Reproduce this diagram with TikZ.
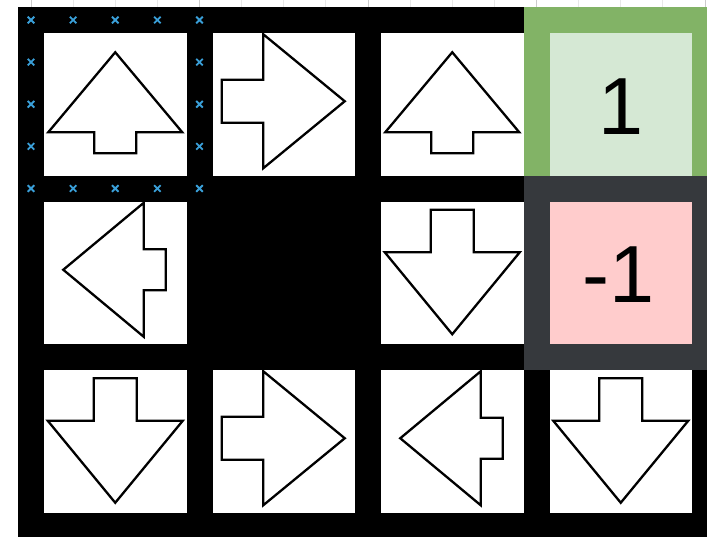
\documentclass[tikz,border=0pt]{standalone}
\usepackage{fontspec}
\newfontfamily\arialfont{Liberation Sans}
\usetikzlibrary{calc}
\definecolor{gfill}{HTML}{D5E8D4}
\definecolor{gline}{HTML}{82B366}
\definecolor{rfill}{HTML}{FFCCCC}
\definecolor{rline}{HTML}{36393D}
\definecolor{xblue}{HTML}{3A9FD8}
\tikzset{
  pics/longright/.style={code={\draw[arr] (-62,-21.5) -- (-20.5,-21.5) -- (-20.5,-67) -- (61,0) -- (-20.5,67) -- (-20.5,21.5) -- (-62,21.5) -- cycle;}},
  pics/longdown/.style={code={\draw[arr] (-21.5,-63) -- (21.5,-63) -- (21.5,-20.5) -- (67.5,-20.5) -- (0,61.5) -- (-67.5,-20.5) -- (-21.5,-20.5) -- cycle;}},
  pics/shortup/.style={code={\draw[arr] (0,-52) -- (67,28) -- (21,28) -- (21,49) -- (-21,49) -- (-21,28) -- (-67,28) -- cycle;}},
  pics/shortleft/.style={code={\draw[arr] (-52,0) -- (28.5,-67) -- (28.5,-20.5) -- (50.5,-20.5) -- (50.5,20.5) -- (28.5,20.5) -- (28.5,67) -- cycle;}},
  pics/xcross/.style={code={\draw[xmark] (-3.3,-3.3) -- (3.3,3.3) (-3.3,3.3) -- (3.3,-3.3);}}
}
\begin{document}
\begin{tikzpicture}[x=1pt,y=-1pt,
  cellbox/.style={rectangle, draw=black, line width=26pt, fill=white, minimum size=168.5pt, inner sep=0pt, outer sep=0pt},
  wallbox/.style={cellbox, fill=black},
  goalbox/.style={cellbox, draw=gline, fill=gfill},
  pitbox/.style={cellbox, draw=rline, fill=rfill},
  numtext/.style={inner sep=0pt, outer sep=0pt, text=black, font=\arialfont\fontsize{81}{90}\selectfont},
  arr/.style={draw=black, line width=2.3pt, fill=white, line join=miter},
  xmark/.style={draw=xblue, line width=1.8pt},
  gridminor/.style={draw=black!9, line width=0.8pt},
  gridmajor/.style={draw=black!20, line width=0.8pt}]
\useasboundingbox (0,0) rectangle (707,536);
\clip (0,0) rectangle (707,536);
\fill[white] (0,0) rectangle (707,536);
% faint background grid (visible only in the top margin)
\foreach \k in {0,...,16}{\draw[gridminor] (31+42.125*\k,0) -- (31+42.125*\k,20);}
\foreach \k in {0,4,8,12,16}{\draw[gridmajor] (31+42.125*\k,0) -- (31+42.125*\k,20);}
% cells
\node[cellbox] (c11) at (115.25,104.25) {};
\node[cellbox] (c12) at (283.75,104.25) {};
\node[cellbox] (c13) at (452.25,104.25) {};
\node[cellbox] (c21) at (115.25,272.75) {};
\node[wallbox] (c22) at (283.75,272.75) {};
\node[cellbox] (c23) at (452.25,272.75) {};
\node[cellbox] (c31) at (115.25,441.25) {};
\node[cellbox] (c32) at (283.75,441.25) {};
\node[cellbox] (c33) at (452.25,441.25) {};
\node[cellbox] (c34) at (620.75,441.25) {};
\node[goalbox] (c14) at (620.75,104.25) {};
\node[pitbox] (c24) at (620.75,272.75) {};
% values
\node[numtext] (t14) at ([yshift=-2pt]c14.center) {1};
\node[numtext] (t24) at ([xshift=-2pt,yshift=-2pt]c24.center) {-1};
% policy arrows
\pic at (c11.center) {shortup};
\pic at ([yshift=3pt]c12.center) {longright};
\pic at (c13.center) {shortup};
\pic at ([yshift=3pt]c21.center) {shortleft};
\pic at (c23.center) {longdown};
\pic at (c31.center) {longdown};
\pic at ([yshift=3pt]c32.center) {longright};
\pic at ([yshift=3pt]c33.center) {shortleft};
\pic at (c34.center) {longdown};
% connection-point markers of the selected cell
\foreach \k in {0,...,4}{
  \pic at ($(c11.north west)!\k/4!(c11.north east)$) {xcross};
  \pic at ($(c11.south west)!\k/4!(c11.south east)$) {xcross};
}
\foreach \k in {1,2,3}{
  \pic at ($(c11.north west)!\k/4!(c11.south west)$) {xcross};
  \pic at ($(c11.north east)!\k/4!(c11.south east)$) {xcross};
}
\end{tikzpicture}
\end{document}
